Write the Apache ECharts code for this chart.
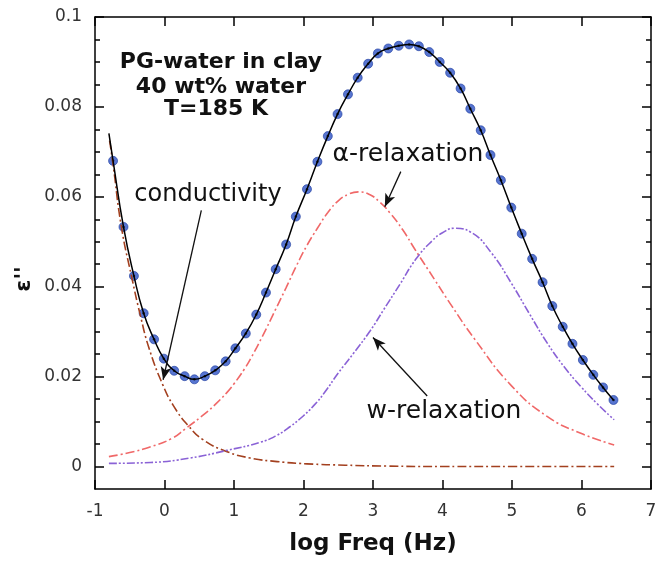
<!DOCTYPE html>
<html>
<head>
<meta charset="utf-8">
<title>PG-water in clay</title>
<script src="https://cdn.jsdelivr.net/npm/echarts@6/dist/echarts.min.js"></script>
<style>
  html, body { margin: 0; padding: 0; background: #fff; }
  #chart { width: 662px; height: 562px; }
</style>
</head>
<body>
<div id="chart"></div>
<script>
// values: x = log Freq (Hz), y = eps''
const dotX = [-0.74, -0.59, -0.44, -0.30, -0.15, -0.01, 0.14, 0.29, 0.43, 0.58,
  0.73, 0.88, 1.02, 1.17, 1.32, 1.46, 1.60, 1.75, 1.89, 2.05,
  2.20, 2.35, 2.49, 2.64, 2.78, 2.93, 3.07, 3.22, 3.37, 3.52,
  3.66, 3.81, 3.96, 4.11, 4.26, 4.40, 4.55, 4.69, 4.84, 4.99,
  5.14, 5.29, 5.44, 5.58, 5.73, 5.87, 6.02, 6.17, 6.31, 6.46]
const dotY = [0.0680, 0.0533, 0.0424, 0.0341, 0.0283, 0.0240, 0.0213, 0.0201, 0.0194, 0.0201,
  0.0214, 0.0234, 0.0263, 0.0296, 0.0338, 0.0387, 0.0439, 0.0494, 0.0556, 0.0617,
  0.0678, 0.0735, 0.0784, 0.0828, 0.0865, 0.0896, 0.0919, 0.0930, 0.0936, 0.0939,
  0.0935, 0.0922, 0.0900, 0.0876, 0.0841, 0.0796, 0.0748, 0.0693, 0.0637, 0.0576,
  0.0518, 0.0462, 0.0410, 0.0357, 0.0311, 0.0273, 0.0237, 0.0204, 0.0176, 0.0148]
// fit curve starts a little before the first point
const fitStart = [-0.80, 0.0741]

const conductivity = [[-0.79, 0.0725], [-0.74, 0.0672], [-0.62, 0.0533], [-0.47, 0.0420],
  [-0.35, 0.0338], [-0.22, 0.0262], [-0.02, 0.0180], [0.13, 0.0135], [0.33, 0.0093],
  [0.56, 0.0059], [0.90, 0.0033], [1.23, 0.0019], [1.62, 0.0011], [2.05, 0.0006],
  [2.60, 0.0003], [3.20, 0.0001], [4.00, 0], [5.00, 0], [6.47, 0]]

const alphaRelax = [[-0.80, 0.0022], [-0.50, 0.0031], [-0.20, 0.0044], [0.10, 0.0062],
  [0.30, 0.0084], [0.60, 0.0120], [0.75, 0.0141], [0.90, 0.0165], [1.00, 0.0184],
  [1.15, 0.0217], [1.25, 0.0243], [1.40, 0.0287], [1.60, 0.0350], [1.75, 0.0398],
  [1.90, 0.0447], [2.05, 0.0492], [2.20, 0.0530], [2.35, 0.0565], [2.50, 0.0591],
  [2.65, 0.0606], [2.79, 0.0611], [2.95, 0.0605], [3.10, 0.0588], [3.25, 0.0563],
  [3.43, 0.0526], [3.60, 0.0484], [3.89, 0.0415], [4.13, 0.0358], [4.46, 0.0284],
  [4.99, 0.0180], [5.51, 0.0111], [5.99, 0.0074], [6.47, 0.0048]]

const wRelax = [[-0.80, 0.0007], [-0.20, 0.0009], [0.37, 0.0019], [0.90, 0.0036],
  [1.38, 0.0054], [1.60, 0.0068], [1.81, 0.0089], [2.00, 0.0113], [2.15, 0.0136],
  [2.30, 0.0164], [2.50, 0.0208], [2.72, 0.0252], [2.96, 0.0302], [3.15, 0.0348],
  [3.39, 0.0406], [3.62, 0.0462], [3.85, 0.0502], [4.00, 0.0520], [4.17, 0.0530],
  [4.41, 0.0521], [4.70, 0.0476], [4.99, 0.0408], [5.25, 0.0340], [5.51, 0.0274],
  [5.75, 0.0222], [5.99, 0.0178], [6.23, 0.0139], [6.47, 0.0104]]

const yMajor = [0, 0.02, 0.04, 0.06, 0.08, 0.1]
const yMinor = [0.005, 0.01, 0.015, 0.025, 0.03, 0.035, 0.045, 0.05, 0.055,
  0.065, 0.07, 0.075, 0.085, 0.09, 0.095]

// arrows: [from, to] in data coords
const arrows = [
  [[0.53, 0.0570], [-0.02, 0.0193]],
  [[3.40, 0.0656], [3.17, 0.0578]],
  [[3.78, 0.0157], [3.00, 0.0287]]
]

const font = '"DejaVu Sans", sans-serif'
const frame = { color: '#000', width: 1.5 }

function yAxisOf(position, ticks, len, showLine, showLabels) {
  return {
    type: 'value', min: -0.005, max: 0.1, position: position,
    axisLine: { show: showLine, onZero: false, lineStyle: frame },
    axisTick: { inside: true, length: len, customValues: ticks, lineStyle: frame },
    axisLabel: showLabels ? {
      customValues: ticks, color: '#333', fontSize: 17, fontFamily: font, margin: 13,
      formatter: v => String(+v.toFixed(3))
    } : { show: false },
    splitLine: { show: false }
  }
}

const myChart = echarts.init(document.getElementById('chart'))
const option = {
  animation: false,
  backgroundColor: '#fff',
  grid: { left: 95, right: 11, top: 17, bottom: 73, outerBoundsMode: 'none' },
  xAxis: [
    {
      type: 'value', min: -1, max: 7, interval: 1, position: 'bottom',
      axisLine: { onZero: false, lineStyle: frame },
      axisTick: { inside: true, length: 9, lineStyle: frame },
      axisLabel: { color: '#333', fontSize: 17, fontFamily: font, margin: 14 },
      splitLine: { show: false },
      name: 'log Freq (Hz)', nameLocation: 'middle', nameGap: 44,
      nameTextStyle: { fontFamily: font, fontWeight: 'bold', fontSize: 23, color: '#111' }
    },
    {
      type: 'value', min: -1, max: 7, interval: 1, position: 'top',
      axisLine: { onZero: false, lineStyle: frame },
      axisTick: { inside: true, length: 9, lineStyle: frame },
      axisLabel: { show: false },
      splitLine: { show: false }
    }
  ],
  yAxis: [
    yAxisOf('left', yMajor, 9, true, true),
    yAxisOf('left', yMinor, 5, false, false),
    yAxisOf('right', yMajor, 9, true, false),
    yAxisOf('right', yMinor, 5, false, false)
  ],
  series: [
    {
      type: 'line', data: conductivity, smooth: true, showSymbol: false, silent: true,
      lineStyle: { color: '#a3401f', width: 1.6, type: [9, 3, 2, 3] }
    },
    {
      type: 'line', data: alphaRelax, smooth: true, showSymbol: false, silent: true,
      lineStyle: { color: '#f06868', width: 1.6, type: [9, 3, 2, 3] }
    },
    {
      type: 'line', data: wRelax, smooth: true, showSymbol: false, silent: true,
      lineStyle: { color: '#8a62d6', width: 1.6, type: [8, 2, 2, 2, 2, 2] }
    },
    {
      type: 'line', smooth: true, showSymbol: false, silent: true,
      data: [fitStart].concat(dotX.map((x, i) => [x, dotY[i]])),
      lineStyle: { color: '#000', width: 1.5 },
      markLine: {
        silent: true, animation: false,
        symbol: ['none', 'arrow'], symbolSize: [8, 13],
        label: { show: false },
        lineStyle: { color: '#111', width: 1.3, type: 'solid' },
        data: arrows.map(a => [{ coord: a[0] }, { coord: a[1] }])
      }
    },
    {
      type: 'scatter', symbol: 'circle', symbolSize: 9, silent: true,
      data: dotX.map((x, i) => [x, dotY[i]]),
      itemStyle: { color: '#2d52c6', borderColor: '#1c3a9e', borderWidth: 0.8 }
    },
    {
      type: 'scatter', symbol: 'circle', symbolSize: 2.5, silent: true,
      data: dotX.map((x, i) => [x, dotY[i]]),
      itemStyle: { color: '#000' }
    }
  ],
  graphic: [
    { type: 'text', x: 221, y: 62, style: { text: 'PG-water in clay', font: 'bold 22px ' + font, fill: '#111', align: 'center', verticalAlign: 'middle' } },
    { type: 'text', x: 221, y: 87, style: { text: '40 wt% water', font: 'bold 22px ' + font, fill: '#111', align: 'center', verticalAlign: 'middle' } },
    { type: 'text', x: 216, y: 109, style: { text: 'T=185 K', font: 'bold 22px ' + font, fill: '#111', align: 'center', verticalAlign: 'middle' } },
    { type: 'text', x: 208, y: 195, style: { text: 'conductivity', font: '24px ' + font, fill: '#111', align: 'center', verticalAlign: 'middle' } },
    { type: 'text', x: 408, y: 154, style: { text: 'α-relaxation', font: '25px ' + font, fill: '#111', align: 'center', verticalAlign: 'middle' } },
    { type: 'text', x: 444, y: 411, style: { text: 'w-relaxation', font: '25px ' + font, fill: '#111', align: 'center', verticalAlign: 'middle' } },
    { type: 'text', x: 24, y: 279, rotation: Math.PI / 2, style: { text: "ε''", font: 'bold 22px ' + font, fill: '#111', align: 'center', verticalAlign: 'middle' } }
  ]
}
myChart.setOption(option)
</script>
</body>
</html>
